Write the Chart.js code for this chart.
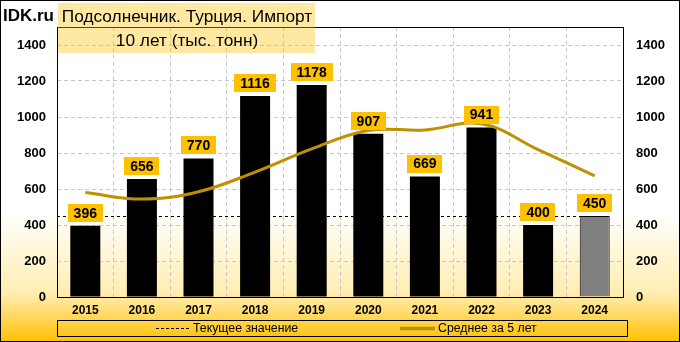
<!DOCTYPE html>
<html>
<head>
<meta charset="utf-8">
<script src="https://cdn.jsdelivr.net/npm/chart.js@4"></script>
<style>
  body { margin: 0; background: #fff; }
  #wrap { width: 680px; height: 342px; }
</style>
</head>
<body>
<div id="wrap"><canvas id="myChart" width="680" height="342"></canvas></div>
<script>
// data
const years = ['2015', '2016', '2017', '2018', '2019', '2020', '2021', '2022', '2023', '2024'];
const imports = [396, 656, 770, 1116, 1178, 907, 669, 941, 400, 450];
const avg5 = [580, 544, 585, 694, 823, 925, 928, 962, 819, 673];
const currentValue = 450;
const yMax = 1500;
const yStep = 200;

const titleLines = ['Подсолнечник. Турция. Импорт', '10 лет (тыс. тонн)'];
const legendLabels = ['Текущее значение', 'Среднее за 5 лет'];

const GOLD = '#BF9000';
const LABEL_BG = '#FFC000';
const FONT = '"Liberation Sans", Arial, sans-serif';

const barColors = imports.map((v, i) => i === imports.length - 1 ? '#7F7F7F' : '#000000');

// background gradient over the whole canvas
const bgPlugin = {
    id: 'bg',
    beforeDraw(chart) {
        const c = chart.ctx;
        const g = c.createLinearGradient(0, 0, 0, chart.height);
        g.addColorStop(0, '#FFFFFF');
        g.addColorStop(0.62, '#FFFFFF');
        g.addColorStop(0.86, '#FFEDB0');
        g.addColorStop(1, '#FFC000');
        c.save();
        c.fillStyle = g;
        c.fillRect(0, 0, chart.width, chart.height);
        c.restore();
    }
};

// dashed "current value" line, behind the bars
const currentLine = {
    id: 'currentLine',
    beforeDatasetsDraw(chart) {
        const c = chart.ctx;
        const y = Math.round(chart.scales.y.getPixelForValue(currentValue)) + 0.5;
        const xEnd = chart.scales.x.getPixelForValue(years.length - 1);
        c.save();
        c.strokeStyle = '#000';
        c.lineWidth = 1;
        c.setLineDash([3, 3]);
        c.beginPath();
        c.moveTo(chart.chartArea.left, y);
        c.lineTo(xEnd, y);
        c.stroke();
        c.restore();
    }
};

// yellow value boxes, plot frame, title, legend
const decor = {
    id: 'decor',
    afterDatasetsDraw(chart) {
        const c = chart.ctx;
        const meta = chart.getDatasetMeta(1);
        c.save();
        c.font = 'bold 14px ' + FONT;
        c.textAlign = 'center';
        c.textBaseline = 'middle';
        meta.data.forEach((bar, i) => {
            const txt = String(imports[i]);
            const w = c.measureText(txt).width + 12;
            const h = 18;
            const bottom = bar.y - 4;
            c.fillStyle = LABEL_BG;
            c.fillRect(Math.round(bar.x - w / 2), Math.round(bottom - h), Math.round(w), h);
            c.fillStyle = '#000';
            c.fillText(txt, bar.x, bottom - h / 2 + 1);
        });
        c.restore();
    },
    afterDraw(chart) {
        const c = chart.ctx;
        const a = chart.chartArea;
        c.save();
        // plot frame
        c.strokeStyle = '#000';
        c.lineWidth = 1;
        c.strokeRect(Math.round(a.left) + 0.5, Math.round(a.top) + 0.5, Math.round(a.right - a.left), Math.round(a.bottom - a.top));

        // outer border
        c.strokeRect(0.5, 0.5, chart.width - 1, chart.height - 1);

        // site name
        c.fillStyle = '#000';
        c.font = 'bold 17px ' + FONT;
        c.textAlign = 'left';
        c.textBaseline = 'middle';
        c.fillText('IDK.ru', 3, 16);

        // title box (semi-transparent)
        c.fillStyle = 'rgba(255, 192, 0, 0.37)';
        c.fillRect(58, 3, 257, 50);
        c.fillStyle = '#000';
        c.font = '17.3px ' + FONT;
        c.textAlign = 'center';
        c.fillText(titleLines[0], 187, 17);
        c.fillText(titleLines[1], 187, 41);

        // legend
        c.strokeRect(57.5, 320.5, 570, 16);
        c.font = '12.3px ' + FONT;
        c.textAlign = 'left';
        c.fillStyle = '#000';
        c.setLineDash([3, 2]);
        c.beginPath();
        c.moveTo(156, 328.5);
        c.lineTo(189, 328.5);
        c.stroke();
        c.setLineDash([]);
        c.fillText(legendLabels[0], 193, 329);
        c.strokeStyle = GOLD;
        c.lineWidth = 3.5;
        c.beginPath();
        c.moveTo(400, 328.5);
        c.lineTo(435, 328.5);
        c.stroke();
        c.fillText(legendLabels[1], 438, 329);
        c.restore();
    }
};

const yFont = { family: FONT, size: 13, weight: 'bold' };
const xFont = { family: FONT, size: 12, weight: 'bold' };

const ctx = document.getElementById('myChart').getContext('2d');
const myChart = new Chart(ctx, {
    type: 'bar',
    data: {
        labels: years,
        datasets: [
            {
                type: 'line',
                label: legendLabels[1],
                data: avg5,
                borderColor: GOLD,
                borderWidth: 3,
                pointRadius: 0,
                tension: 0.4,
                fill: false,
                order: 0
            },
            {
                type: 'bar',
                label: 'Импорт',
                data: imports,
                backgroundColor: barColors,
                borderColor: '#000',
                borderWidth: imports.map((v, i) => i === imports.length - 1 ? 1 : 0),
                barPercentage: 0.53,
                categoryPercentage: 1,
                order: 1
            }
        ]
    },
    options: {
        responsive: false,
        devicePixelRatio: 1,
        animation: false,
        layout: { padding: { top: 27, left: 0, right: 0, bottom: 0 } },
        plugins: {
            legend: { display: false },
            tooltip: { enabled: false },
            title: { display: false }
        },
        scales: {
            x: {
                grid: { color: '#C8C8C8', drawTicks: false, offset: true },
                border: { display: false, dash: [4, 3] },
                ticks: { color: '#000', font: xFont, padding: 6 },
                afterFit(scale) { scale.height = 45; }
            },
            y: {
                min: 0,
                max: yMax,
                grid: { color: '#C8C8C8', drawTicks: false },
                border: { display: false, dash: [4, 3] },
                ticks: {
                    stepSize: yStep,
                    color: '#000',
                    font: yFont,
                    padding: 11,
                    callback: v => v === yMax ? '' : v
                },
                afterFit(scale) { scale.width = 57; }
            },
            y2: {
                position: 'right',
                min: 0,
                max: yMax,
                grid: { display: false, drawTicks: false },
                border: { display: false },
                ticks: {
                    stepSize: yStep,
                    color: '#000',
                    font: yFont,
                    padding: 13,
                    callback: v => v === yMax ? '' : v
                },
                afterFit(scale) { scale.width = 57; }
            }
        }
    },
    plugins: [bgPlugin, currentLine, decor]
});
</script>
</body>
</html>
